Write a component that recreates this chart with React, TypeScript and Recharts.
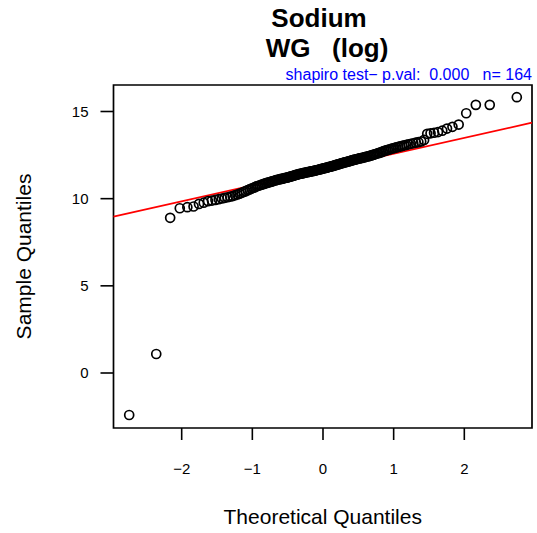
import React from 'react';
import { ScatterChart, Scatter, XAxis, YAxis, ReferenceArea, ReferenceLine, Label } from 'recharts';

// theoretical normal quantiles for n = 164 (x of each point)
const theoretical = [
  -2.743, -2.360, -2.163, -2.027, -1.920, -1.832, -1.755, -1.688, -1.627, -1.572,
  -1.522, -1.475, -1.431, -1.390, -1.350, -1.313, -1.278, -1.244, -1.211, -1.180,
  -1.150, -1.121, -1.093, -1.066, -1.039, -1.013, -0.988, -0.963, -0.939, -0.916,
  -0.893, -0.870, -0.848, -0.827, -0.805, -0.784, -0.764, -0.743, -0.723, -0.704,
  -0.684, -0.665, -0.646, -0.627, -0.609, -0.590, -0.572, -0.554, -0.536, -0.519,
  -0.501, -0.484, -0.467, -0.450, -0.433, -0.417, -0.400, -0.384, -0.367, -0.351,
  -0.335, -0.319, -0.303, -0.287, -0.271, -0.256, -0.240, -0.224, -0.209, -0.193,
  -0.178, -0.161, -0.146, -0.130, -0.115, -0.100, -0.084, -0.069, -0.054, -0.038,
  -0.023, -0.008,
  0.008, 0.023, 0.038, 0.054, 0.069, 0.084, 0.100, 0.115, 0.130, 0.146,
  0.161, 0.178, 0.193, 0.209, 0.224, 0.240, 0.256, 0.271, 0.287, 0.303,
  0.319, 0.335, 0.351, 0.367, 0.384, 0.400, 0.417, 0.433, 0.450, 0.467,
  0.484, 0.501, 0.519, 0.536, 0.554, 0.572, 0.590, 0.609, 0.627, 0.646,
  0.665, 0.684, 0.704, 0.723, 0.743, 0.764, 0.784, 0.805, 0.827, 0.848,
  0.870, 0.893, 0.916, 0.939, 0.963, 0.988, 1.013, 1.039, 1.066, 1.093,
  1.121, 1.150, 1.180, 1.211, 1.244, 1.278, 1.313, 1.350, 1.390, 1.431,
  1.475, 1.522, 1.572, 1.627, 1.688, 1.755, 1.832, 1.920, 2.027, 2.163,
  2.360, 2.743,
];

// sorted sample values (log sodium)
const sample = [
  -2.41, 1.09, 8.90, 9.45, 9.51, 9.55, 9.70, 9.77, 9.86, 9.89,
  9.93, 9.97, 10.01, 10.05, 10.08, 10.12, 10.15, 10.20, 10.24, 10.29,
  10.34, 10.39, 10.43, 10.49, 10.53, 10.58, 10.62, 10.66, 10.71, 10.74,
  10.77, 10.80, 10.83, 10.86, 10.89, 10.92, 10.94, 10.96, 10.99, 11.01,
  11.04, 11.06, 11.08, 11.10, 11.12, 11.13, 11.15, 11.17, 11.19, 11.20,
  11.22, 11.24, 11.26, 11.28, 11.30, 11.32, 11.34, 11.36, 11.38, 11.40,
  11.42, 11.43, 11.44, 11.46, 11.47, 11.49, 11.50, 11.52, 11.53, 11.54,
  11.56, 11.57, 11.58, 11.60, 11.61, 11.63, 11.64, 11.66, 11.67, 11.69,
  11.70, 11.72, 11.74, 11.75, 11.77, 11.78, 11.80, 11.82, 11.83, 11.85,
  11.87, 11.88, 11.91, 11.92, 11.95, 11.96, 11.98, 12.00, 12.02, 12.04,
  12.06, 12.08, 12.09, 12.11, 12.13, 12.14, 12.17, 12.18, 12.21, 12.22,
  12.24, 12.26, 12.27, 12.30, 12.31, 12.33, 12.34, 12.36, 12.38, 12.40,
  12.42, 12.44, 12.46, 12.48, 12.51, 12.53, 12.56, 12.59, 12.61, 12.64,
  12.67, 12.71, 12.74, 12.77, 12.80, 12.82, 12.86, 12.88, 12.91, 12.94,
  12.97, 13.00, 13.03, 13.06, 13.08, 13.12, 13.15, 13.18, 13.21, 13.24,
  13.28, 13.37, 13.72, 13.75, 13.78, 13.82, 13.90, 14.02, 14.12, 14.25,
  14.90, 15.38, 15.38, 15.82,
];

// qqline end points (clipped to plot region)
const qqLineX = [-2.965, 2.958];
const qqLineY = [8.97, 14.36];

const xTicks = [-2, -1, 0, 1, 2];
const yTicks = [0, 5, 10, 15];
const xDomain = [-2.965, 2.958];
const yDomain = [-3.155, 16.52];

const FONT = '"Liberation Sans", Arial, Helvetica, sans-serif';

const points = theoretical.map((x, i) => ({ x, y: sample[i] }));

const fmt = (v: number) => String(v).replace('-', '\u2212');

const OpenCircle = (props: any) => {
  const { cx, cy } = props;
  if (cx == null || cy == null) return null;
  return <circle cx={cx} cy={cy} r={4.5} fill="none" stroke="#000" strokeWidth={1.7} />;
};

const App: React.FC = () => {
  return (
    <div style={{ position: 'absolute', left: 0, top: 0, width: 537, height: 533, background: '#fff' }}>
      <ScatterChart width={537} height={533} margin={{ top: 85, right: 5, bottom: 0, left: 0 }}>
        <XAxis
          type="number"
          dataKey="x"
          domain={xDomain}
          ticks={xTicks}
          interval={0}
          allowDataOverflow
          height={105}
          axisLine={false}
          tickSize={12}
          tickMargin={23}
          tickLine={{ stroke: '#000', strokeWidth: 1.6 }}
          tick={{ fill: '#000', fontSize: 15, fontFamily: FONT }}
          tickFormatter={fmt}
        >
          <Label
            content={({ viewBox }: any) => (
              <text
                x={viewBox.x + viewBox.width / 2}
                y={viewBox.y + 96}
                textAnchor="middle"
                fontSize={21}
                fontFamily={FONT}
                fill="#000"
              >
                Theoretical Quantiles
              </text>
            )}
          />
        </XAxis>
        <YAxis
          type="number"
          dataKey="y"
          domain={yDomain}
          ticks={yTicks}
          interval={0}
          allowDataOverflow
          width={113.5}
          axisLine={false}
          tickSize={13}
          tickMargin={12}
          tickLine={{ stroke: '#000', strokeWidth: 1.6 }}
          tick={{ fill: '#000', fontSize: 15, fontFamily: FONT }}
          tickFormatter={fmt}
        >
          <Label
            content={({ viewBox }: any) => {
              const cy = viewBox.y + viewBox.height / 2;
              return (
                <text
                  x={31}
                  y={cy}
                  transform={`rotate(-90, 31, ${cy})`}
                  textAnchor="middle"
                  fontSize={21}
                  fontFamily={FONT}
                  fill="#000"
                >
                  Sample Quantiles
                </text>
              );
            }}
          />
        </YAxis>

        {/* plot box */}
        <ReferenceArea
          x1={xDomain[0]}
          x2={xDomain[1]}
          y1={yDomain[0]}
          y2={yDomain[1]}
          fill="none"
          stroke="#000"
          strokeWidth={1.7}
          ifOverflow="visible"
        />

        <Scatter data={points} shape={OpenCircle} isAnimationActive={false} />

        {/* qqline */}
        <ReferenceLine
          segment={[
            { x: qqLineX[0], y: qqLineY[0] },
            { x: qqLineX[1], y: qqLineY[1] },
          ]}
          stroke="#ff0000"
          strokeWidth={1.7}
          ifOverflow="visible"
        />
      </ScatterChart>

      <svg
        width={537}
        height={100}
        style={{ position: 'absolute', left: 0, top: 0, pointerEvents: 'none' }}
      >
        <text x={319} y={27} textAnchor="middle" fontSize={26} fontWeight="bold" fontFamily={FONT} fill="#000">
          Sodium
        </text>
        <text
          x={327}
          y={57}
          textAnchor="middle"
          fontSize={26}
          fontWeight="bold"
          fontFamily={FONT}
          fill="#000"
          style={{ whiteSpace: 'pre' }}
        >
          {'WG   (log)'}
        </text>
        <text
          x={532}
          y={80}
          textAnchor="end"
          fontSize={16}
          fontFamily={FONT}
          fill="#0000ff"
          style={{ whiteSpace: 'pre' }}
        >
          {'shapiro test\u2212 p.val:  0.000   n= 164'}
        </text>
      </svg>
    </div>
  );
};

export default App;
